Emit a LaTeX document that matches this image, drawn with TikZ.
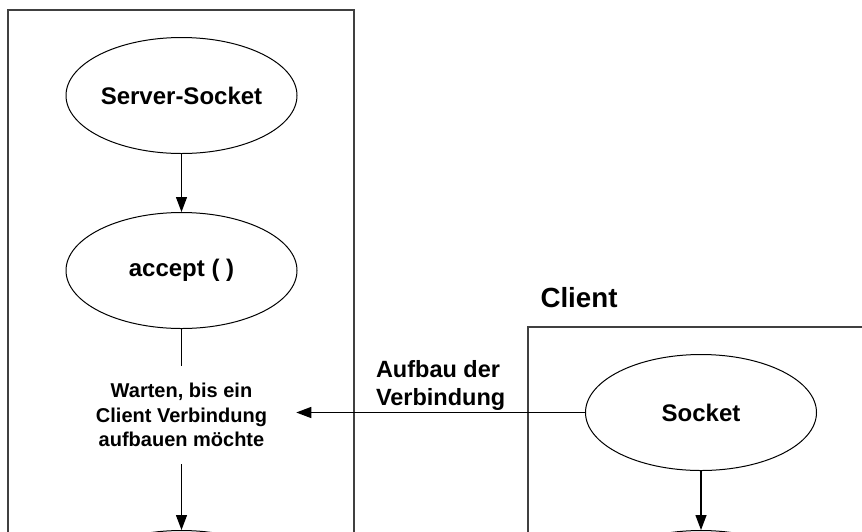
\documentclass[tikz,border=0pt]{standalone}
\usepackage{fontspec}
\setmainfont{Liberation Sans}
\usetikzlibrary{arrows.meta,positioning,shapes.geometric}

\begin{document}
\begin{tikzpicture}[
  x=1pt, y=-1pt,
  proc/.style={draw, ellipse, line width=1pt, minimum width=231pt, minimum height=116pt, inner sep=0pt, font=\fontsize{24}{28}\selectfont\bfseries},
  frame/.style={draw=black!75, line width=1.5pt},
  flow/.style={-{Triangle[length=15pt,width=11pt]}, line width=1.3pt},
  node distance=58pt
]
  \useasboundingbox (0,0) rectangle (862,531);
  \clip (0,0) rectangle (862,531);

  % server
  \draw[frame] (8,560) |- (354,10) -- (354,560);
  \node[proc] (srvsock) at (181.5,95.5) {Server-Socket};
  \node[proc, below=of srvsock] (accept) {accept ( )};
  \node[below=37pt of accept, minimum height=98pt, inner xsep=29pt, inner ysep=0pt, align=center, font=\fontsize{20}{24.5}\selectfont\bfseries] (wait) {Warten, bis ein\\Client Verbindung\\aufbauen möchte};
  \node[proc] (srvnext) at (181.5,588.5) {};

  % client
  \draw[frame] (528,560) |- (900,327);
  \node[anchor=base west, font=\fontsize{27.7}{32}\selectfont\bfseries] (clientlbl) at (537,307) {Client};
  \node[proc] (sock) at (701,412.5) {Socket};
  \node[proc] (clinext) at (701,588.5) {};

  \draw[flow] (srvsock) -- (accept);
  \draw[line width=1.3pt] (accept) -- (wait);
  \draw[flow] (wait) -- (srvnext);
  \draw[flow] (sock.west) -- node[above, inner sep=1pt, align=left, font=\fontsize{23.5}{28}\selectfont\bfseries] {Aufbau der\\Verbindung} (wait.east |- sock.west);
  \draw[flow] (sock) -- (clinext);
\end{tikzpicture}
\end{document}
